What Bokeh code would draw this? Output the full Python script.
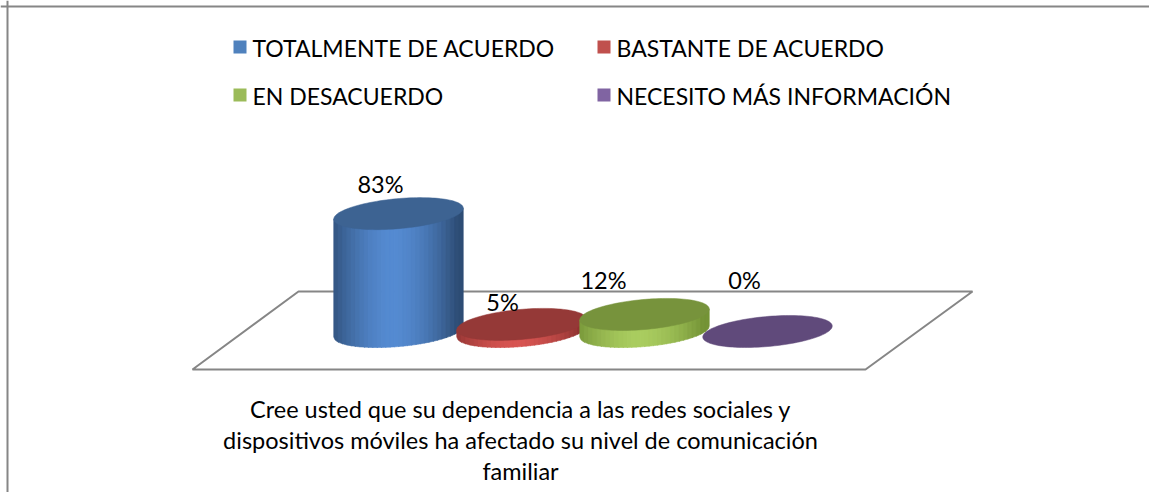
import numpy as np
from bokeh.plotting import figure
from bokeh.models import Range1d, Span, Label
from bokeh.core.properties import value
from bokeh.embed import file_html
from bokeh.resources import INLINE

# ---------------- data ----------------
categories = ["TOTALMENTE DE ACUERDO", "BASTANTE DE ACUERDO", "EN DESACUERDO", "NECESITO MÁS INFORMACIÓN"]
percentages = [83, 5, 12, 0]
labels = ["83%", "5%", "12%", "0%"]
question = ["Cree usted que su dependencia a las redes sociales y",
            "dispositivos móviles ha afectado su nivel de comunicación",
            "familiar"]

# ---------------- styles ----------------
legend_colors = ["#4F81BD", "#C0504D", "#9BBB59", "#8064A2"]
top_colors = ["#3D6392", "#953937", "#77933C", "#604A7B"]
side_dark = [(0x2E, 0x4D, 0x75), (0x8E, 0x33, 0x31), (0x74, 0x93, 0x36), (0x5A, 0x45, 0x75)]
side_light = [(0x55, 0x8B, 0xD2), (0xD8, 0x55, 0x52), (0xAA, 0xCD, 0x60), (0x86, 0x6C, 0xAA)]
label_dx = [-18, -19, -41, -23]     # screen px nudges of the 3D data labels
label_dy = [-30, -22, -34, -52]
FONT = "Lato"
GRAY = "#868686"

W, H = 1149, 492
PX_X = 123.0      # screen px per category step
PX_Y = 1.42       # screen px per percentage point
X0 = 398.0        # first category centre, px from left
BASE_Y = 331.0    # baseline, px from top

p = figure(width=W, height=H, output_backend="svg", toolbar_location=None,
           x_axis_type=None, y_axis_type=None, min_border=0,
           x_range=Range1d(-X0 / PX_X, (W - X0) / PX_X),
           y_range=Range1d((BASE_Y - H) / PX_Y, BASE_Y / PX_Y))
p.grid.visible = False
p.outline_line_color = None
p.background_fill_color = "white"
p.border_fill_color = "white"

def dx(px):
    return np.asarray(px, dtype=float) / PX_X

def dy(px):
    return np.asarray(px, dtype=float) / PX_Y

def sx(X):
    return (np.asarray(X, dtype=float) - X0) / PX_X

def sy(Y):
    return (BASE_Y - np.asarray(Y, dtype=float)) / PX_Y

# frame border (left and top visible)
p.add_layout(Span(location=float(sx(7)), dimension="height", line_color=GRAY, line_width=2))
p.add_layout(Span(location=float(sy(6)), dimension="width", line_color=GRAY, line_width=2))

# floor (3D plane)
p.patch(x=sx([192, 298, 972, 865]), y=sy([369, 291, 291, 369]),
        fill_color="white", line_color=GRAY, line_width=2)

# cylinder geometry (screen px, y up)
A_AX, B_AX = 65.0, 15.0
TH = np.radians(5.1)
c, s = np.cos(TH), np.sin(TH)
Aq = s * s / A_AX ** 2 + c * c / B_AX ** 2
Bq = 2 * c * s * (1 / A_AX ** 2 - 1 / B_AX ** 2)
Cq = c * c / A_AX ** 2 + s * s / B_AX ** 2
XMAX = np.sqrt(A_AX ** 2 * c * c + B_AX ** 2 * s * s)

def mid(x):
    return -Bq * x / (2 * Aq)

def lower(x):
    disc = (Bq * x) ** 2 - 4 * Aq * (Cq * x * x - 1)
    return mid(x) - np.sqrt(np.maximum(disc, 0)) / (2 * Aq)

t = np.linspace(0, 2 * np.pi, 120)
ell_x = A_AX * np.cos(t) * c - B_AX * np.sin(t) * s
ell_y = A_AX * np.cos(t) * s + B_AX * np.sin(t) * c

N = 30
edges = np.linspace(-XMAX, XMAX, N + 1)

for i, v in enumerate(percentages):
    h = v * PX_Y
    xs_list, ys_list, cols = [], [], []
    if v > 0:
        for k in range(N):
            xs = np.clip(np.linspace(edges[k], edges[k + 1] + 0.6, 5), -XMAX, XMAX)
            top = mid(xs) + h
            bot = lower(xs)
            xs_list.append(list(i + dx(np.concatenate([xs, xs[::-1]]))))
            ys_list.append(list(dy(np.concatenate([top, bot[::-1]]))))
            sc = (edges[k] + edges[k + 1]) / 2 / XMAX
            mix = max(0.0, 1 - abs(sc + 0.08) ** 1.7)
            d, l = side_dark[i], side_light[i]
            rgb = tuple(int(d[j] + (l[j] - d[j]) * mix) for j in range(3))
            cols.append("#%02x%02x%02x" % rgb)
        p.patches(xs=xs_list, ys=ys_list, fill_color=cols, line_color=cols, line_width=0.6)
    p.patch(x=i + dx(ell_x), y=v + dy(ell_y), fill_color=top_colors[i], line_color=top_colors[i],
            line_width=0.5)

# data labels
p.text(x=list(range(len(labels))), y=percentages, text=labels,
       x_offset=label_dx, y_offset=label_dy, text_align="center", text_baseline="middle",
       text_font=value(FONT), text_font_size="23.5px", text_color="black")

# legend (two columns, two rows)
leg_x = sx([239.5, 603.5, 239.5, 603.5])
leg_y = sy([46.5, 46.5, 94.5, 94.5])
p.scatter(x=leg_x, y=leg_y, marker="square", size=13, fill_color=legend_colors, line_color=None)
p.text(x=leg_x, y=leg_y, text=categories, x_offset=12.5, y_offset=0.5,
       text_align="left", text_baseline="middle",
       text_font=value(FONT), text_font_size="23px", text_color="black")

# category title (below floor)
for k, line in enumerate(question):
    p.add_layout(Label(x=520, y=H - (408 + 31 * k), x_units="screen", y_units="screen", text=line,
                       text_align="center", text_baseline="middle",
                       text_font=FONT, text_font_size="23.5px", text_color="black"))

open("out.html", "w").write(file_html(p, INLINE))
